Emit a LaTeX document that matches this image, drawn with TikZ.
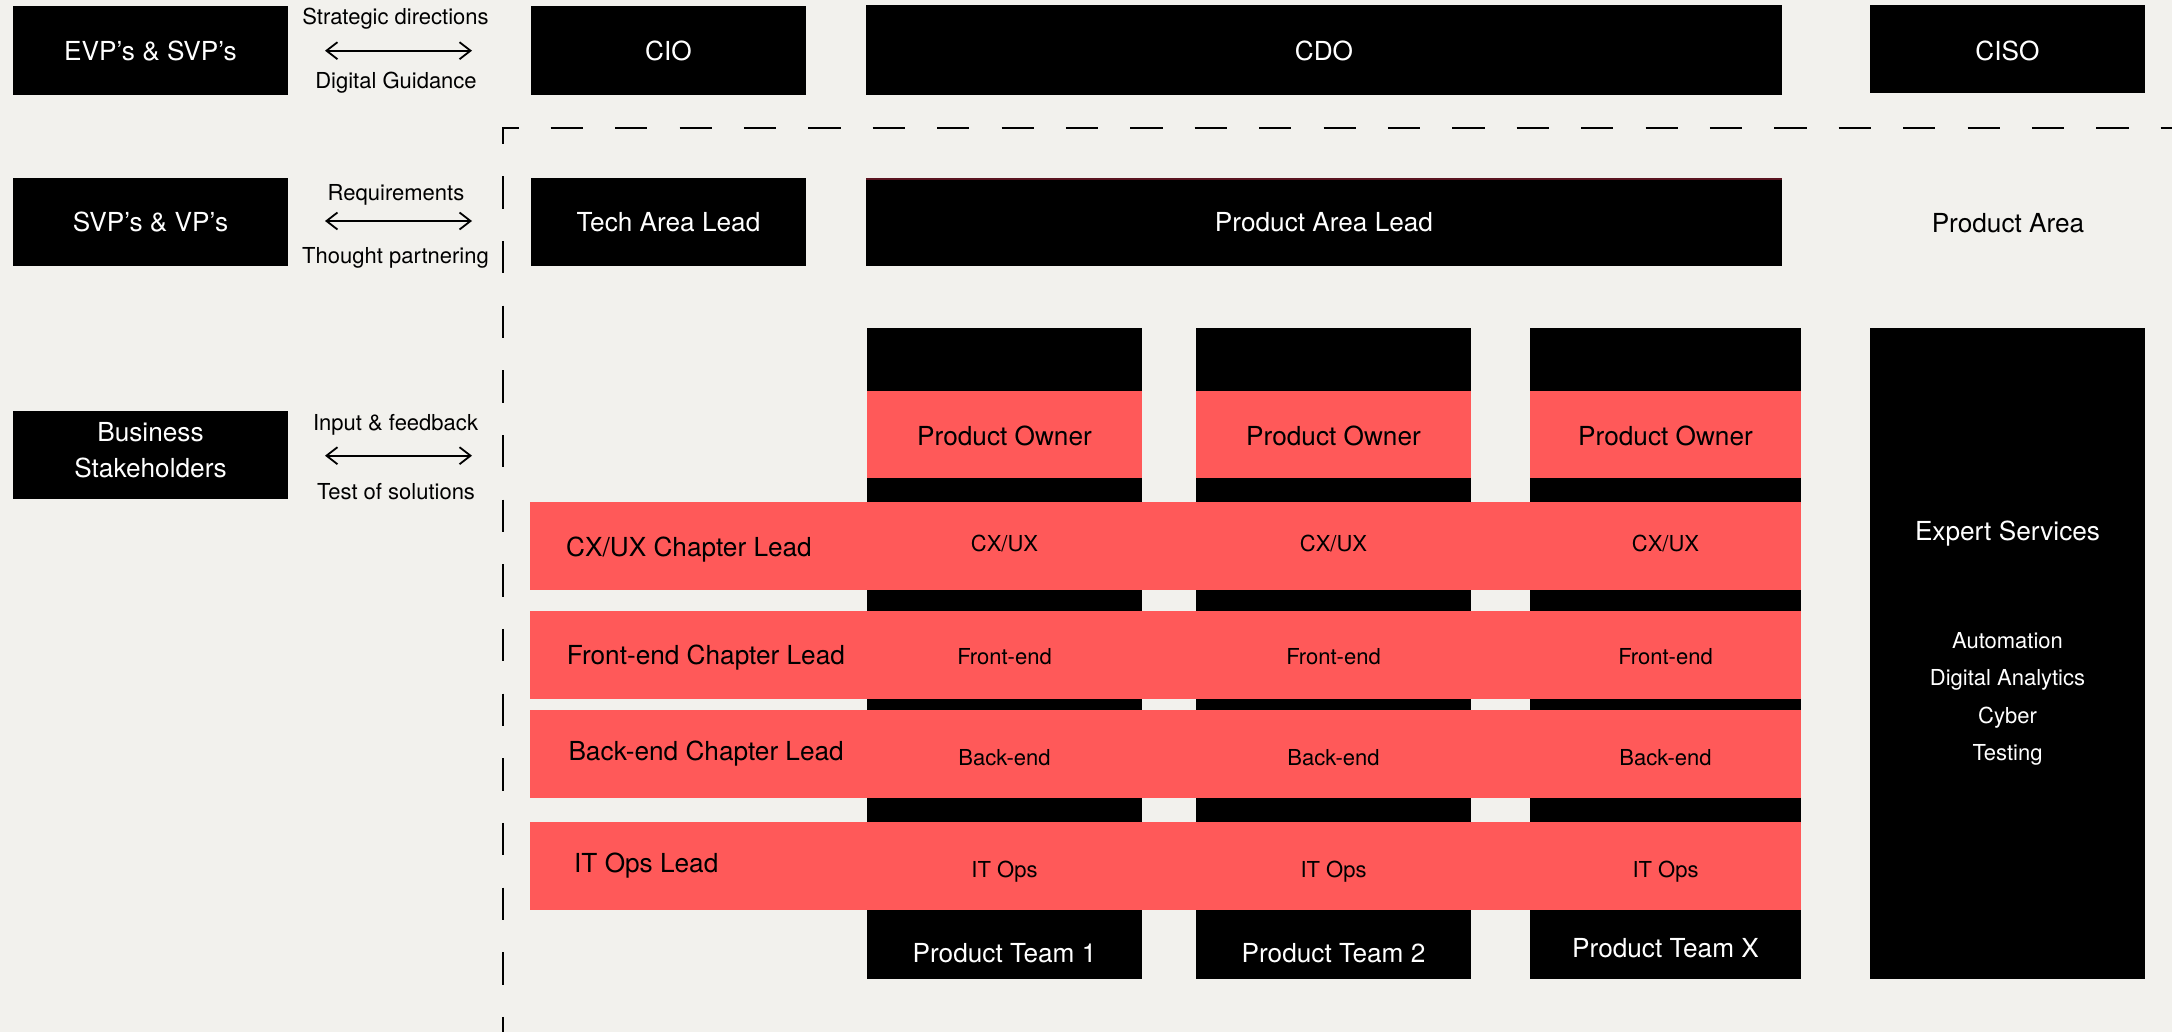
\documentclass[tikz,border=0pt]{standalone}
\usepackage{fontspec}
\setmainfont{TeX Gyre Heros}
\usetikzlibrary{arrows.meta}
\definecolor{bgc}{HTML}{F2F1ED}
\definecolor{redc}{HTML}{FF5959}
\definecolor{lineRed}{HTML}{5A1420}
\newcommand\fBig{\fontsize{26.2pt}{31pt}\selectfont}
\newcommand\fSmall{\fontsize{22pt}{26pt}\selectfont}
\begin{document}
\begin{tikzpicture}[x=1pt,y=-1pt,
  blk/.style={fill=black, draw=none, inner sep=0pt, outer sep=0pt, anchor=north west},
  redbox/.style={fill=redc, draw=none, inner sep=0pt, outer sep=0pt, anchor=north west},
  bigw/.style={font=\fBig, text=white, inner sep=0pt, text height=18.6pt, text depth=0pt},
  bigk/.style={font=\fBig, text=black, inner sep=0pt, text height=18.6pt, text depth=0pt},
  smallw/.style={font=\fSmall, text=white, inner sep=0pt, text height=15.6pt, text depth=0pt},
  smallk/.style={font=\fSmall, text=black, inner sep=0pt, text height=15.6pt, text depth=0pt},
  biarrow/.style={line width=1.8pt, {Straight Barb[length=11pt,width=17pt]}-{Straight Barb[length=11pt,width=17pt]}},
  dashh/.style={line width=2pt, dash pattern=on 32.2pt off 32.2pt, dash phase=16.7pt},
  dashv/.style={line width=2pt, dash pattern=on 32.33pt off 32.33pt, dash phase=16pt}
]
\useasboundingbox (0,0) rectangle (2172,1032);
\fill[bgc] (0,0) rectangle (2172,1032);

% dashed boundary
\coordinate (corner) at (503,127.7);
\coordinate (hend) at (2172,127.7);
\coordinate (vend) at (503,1032);
\draw[dashh] (corner) -- (hend);
\draw[dashv] (corner) -- (vend);
\draw[line width=2pt, miter limit=10] ([yshift=-12pt]corner) -- (corner) -- ([xshift=12pt]corner);

% left boxes
\node[blk, minimum width=275pt, minimum height=89pt] (evp) at (13,6) {};
\node[blk, minimum width=275pt, minimum height=88pt] (svp) at (13,178) {};
\node[blk, minimum width=275pt, minimum height=88pt] (bs) at (13,411) {};
\node[bigw] (tevp) at (150.5,51.5) {EVP’s \& SVP’s};
\node[bigw] (tsvp) at (150.5,222) {SVP’s \& VP’s};
\node[bigw] (tbs1) at (150.5,431.7) {Business};
\node[bigw] (tbs2) at (150.5,468) {Stakeholders};

% arrows and labels
\coordinate (a1l) at (325,50.7); \coordinate (a1r) at (472,50.7);
\coordinate (a2l) at (325,221); \coordinate (a2r) at (472,221);
\coordinate (a3l) at (325,455.7); \coordinate (a3r) at (472,455.7);
\draw[biarrow] (a1l) -- (a1r);
\draw[biarrow] (a2l) -- (a2r);
\draw[biarrow] (a3l) -- (a3r);
\node[smallk] (l1a) at (395.5,16.7) {Strategic directions};
\node[smallk] (l1b) at (396,80.5) {Digital Guidance};
\node[smallk] (l2a) at (396,192.5) {Requirements};
\node[smallk] (l2b) at (395.5,255.8) {Thought partnering};
\node[smallk] (l3a) at (395.5,422.5) {Input \& feedback};
\node[smallk] (l3b) at (396,491.5) {Test of solutions};

% top rows
\node[blk, minimum width=275pt, minimum height=89pt] (cio) at (531,6) {};
\node[blk, minimum width=275pt, minimum height=88pt] (tal) at (531,178) {};
\node[blk, minimum width=916pt, minimum height=89.5pt] (cdo) at (866,5.5) {};
\node[blk, minimum width=916pt, minimum height=86pt] (pal) at (866,180) {};
\node[blk, minimum width=275pt, minimum height=88pt] (ciso) at (1870,5) {};
\draw[lineRed, line width=1.5pt] ([yshift=1pt]pal.north west) -- ([yshift=1pt]pal.north east);
\node[bigw] (tcio) at (668.5,51.5) {CIO};
\node[bigw] (tcdo) at (1324,51.5) {CDO};
\node[bigw] (tciso) at (2007.5,51.5) {CISO};
\node[bigw] (ttal) at (668.5,222.5) {Tech Area Lead};
\node[bigw] (tpal) at (1324,222.5) {Product Area Lead};
\node[bigk] (tpa) at (2008,222.8) {Product Area};

% product team columns
\node[blk, minimum width=275pt, minimum height=651pt] (col1) at (867,328) {};
\node[blk, minimum width=275pt, minimum height=651pt] (col2) at (1196,328) {};
\node[blk, minimum width=271pt, minimum height=651pt] (colx) at (1530,328) {};
\node[redbox, minimum width=275pt, minimum height=87.5pt] (po1) at (867,390.5) {};
\node[redbox, minimum width=275pt, minimum height=87.5pt] (po2) at (1196,390.5) {};
\node[redbox, minimum width=271pt, minimum height=87.5pt] (pox) at (1530,390.5) {};
\node[bigk] (tpo1) at (1004.5,435.8) {Product Owner};
\node[bigk] (tpo2) at (1333.5,435.8) {Product Owner};
\node[bigk] (tpox) at (1665.5,435.8) {Product Owner};

% chapter bands
\node[redbox, minimum width=1271pt, minimum height=88pt] (bcx) at (530,502) {};
\node[redbox, minimum width=1271pt, minimum height=88pt] (bfe) at (530,611) {};
\node[redbox, minimum width=1271pt, minimum height=88pt] (bbe) at (530,710) {};
\node[redbox, minimum width=1271pt, minimum height=88pt] (bit) at (530,822) {};
\node[bigk, anchor=west] (lcx) at (566,547.5) {CX/UX Chapter Lead};
\node[bigk, anchor=west] (lfe) at (566.7,655) {Front-end Chapter Lead};
\node[bigk, anchor=west] (lbe) at (568.3,751) {Back-end Chapter Lead};
\node[bigk, anchor=west] (lit) at (574,863.5) {IT Ops Lead};

\foreach \c/\n in {1004.5/a,1333.5/b,1665.5/c}{
  \node[smallk] (cx\n) at (\c,544) {CX/UX};
  \node[smallk] (fe\n) at (\c,656.3) {Front-end};
  \node[smallk] (be\n) at (\c,757.3) {Back-end};
  \node[smallk] (it\n) at (\c,869.5) {IT Ops};
}
\node[bigw] (tpt1) at (1004.5,953.5) {Product Team 1};
\node[bigw] (tpt2) at (1333.5,953.5) {Product Team 2};
\node[bigw] (tptx) at (1665.5,948.3) {Product Team X};

% expert services
\node[blk, minimum width=275pt, minimum height=651pt] (exp) at (1870,328) {};
\node[bigw] (texp) at (2007.5,531.5) {Expert Services};
\node[smallw] (es1) at (2007.5,640.5) {Automation};
\node[smallw] (es2) at (2007.5,677.8) {Digital Analytics};
\node[smallw] (es3) at (2007.5,715.3) {Cyber};
\node[smallw] (es4) at (2007.5,752.5) {Testing};
\end{tikzpicture}
\end{document}
